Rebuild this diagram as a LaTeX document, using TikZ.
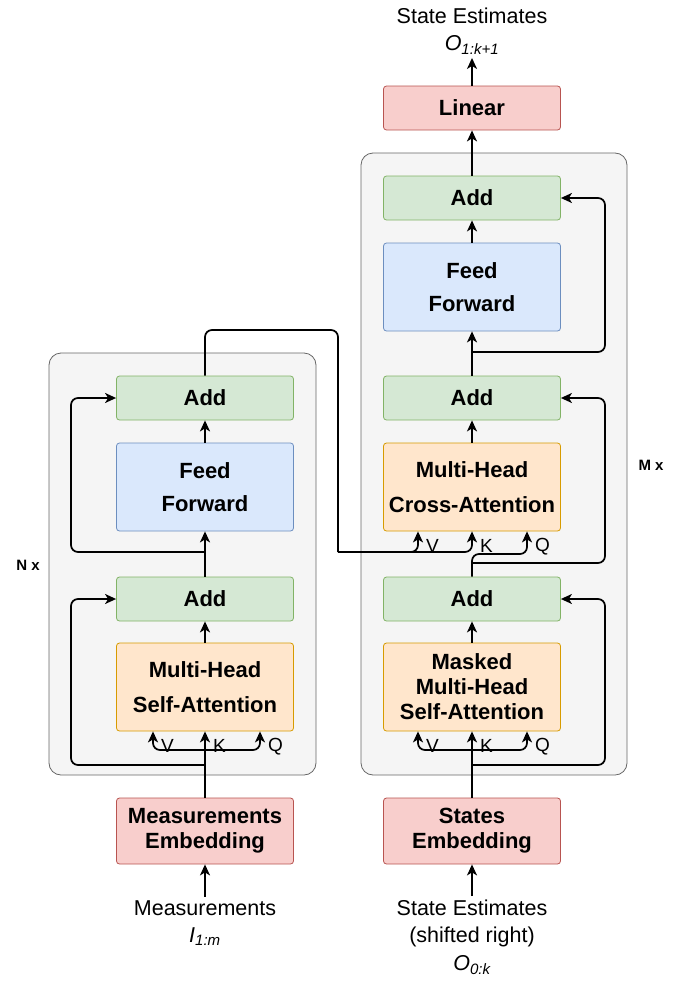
\documentclass[tikz,border=0pt]{standalone}
\usepackage{fontspec}
\setmainfont{Liberation Sans}
\usetikzlibrary{arrows.meta}

\definecolor{redfill}{HTML}{F8CECC}
\definecolor{redline}{HTML}{B85450}
\definecolor{greenfill}{HTML}{D5E8D4}
\definecolor{greenline}{HTML}{82B366}
\definecolor{bluefill}{HTML}{DAE8FC}
\definecolor{blueline}{HTML}{6C8EBF}
\definecolor{orangefill}{HTML}{FFE6CC}
\definecolor{orangeline}{HTML}{D79B00}
\definecolor{contfill}{HTML}{F5F5F5}
\definecolor{contline}{HTML}{666666}

\tikzset{
  blk/.style={draw, rounded corners=3pt, minimum width=177pt, align=center,
    line width=0.8pt, font=\bfseries\fontsize{22}{25}\selectfont},
  addblk/.style={blk, fill=greenfill, draw=greenline, minimum height=44pt},
  ffblk/.style={blk, fill=bluefill, draw=blueline, minimum height=88pt},
  attblk/.style={blk, fill=orangefill, draw=orangeline, minimum height=88pt},
  embblk/.style={blk, fill=redfill, draw=redline, minimum height=66pt},
  linblk/.style={blk, fill=redfill, draw=redline, minimum height=44pt},
  cont/.style={draw=contline, fill=contfill, rounded corners=12pt, line width=0.8pt},
  txt/.style={align=center, font=\fontsize{21.5}{27.5}\selectfont},
  small/.style={font=\fontsize{19}{20}\selectfont, inner sep=1pt},
  rep/.style={font=\bfseries\fontsize{15}{18}\selectfont},
  wire/.style={line width=1.7pt, rounded corners=7pt},
  arr/.style={wire, -{Stealth[length=11pt,width=10pt,inset=3pt]}}
}

\begin{document}
\begin{tikzpicture}[x=1pt,y=-1pt]
\useasboundingbox (0,0) rectangle (688,982);

% repeated blocks
\draw[cont] (49,353) rectangle (316,775);
\draw[cont] (361,153) rectangle (627,775);
\node[rep] (nx) at (28,565) {N x};
\node[rep] (mx) at (651,465) {M x};

% encoder
\node[addblk] (addL2) at (205,398) {Add};
\node[ffblk] (ffL) at (205,487) {Feed\\[8pt]Forward};
\node[addblk] (addL1) at (205,599) {Add};
\node[attblk] (attL) at (205,687) {Multi-Head\\[10pt]Self-Attention};
\node[embblk] (embL) at (205,831) {Measurements\\Embedding};
\node[txt] (inL) at (205,923) {Measurements\\\textit{I\textsubscript{1:m}}};

% decoder
\node[linblk] (lin) at (472,108) {Linear};
\node[txt] (outR) at (472,31) {State Estimates\\\textit{O\textsubscript{1:k+1}}};
\node[addblk] (addR3) at (472,198) {Add};
\node[ffblk] (ffR) at (472,287) {Feed\\[8pt]Forward};
\node[addblk] (addR2) at (472,398) {Add};
\node[attblk] (crossR) at (472,487) {Multi-Head\\[10pt]Cross-Attention};
\node[addblk] (addR1) at (472,599) {Add};
\node[attblk] (attR) at (472,687) {Masked\\Multi-Head\\Self-Attention};
\node[embblk] (embR) at (472,831) {States\\Embedding};
\node[txt] (inR) at (472,937) {State Estimates\\(shifted right)\\\textit{O\textsubscript{0:k}}};

% branch points
\coordinate (vkqL) at (205,750);
\coordinate (resL1) at (205,765);
\coordinate (resL2) at (205,552);
\coordinate (encT) at (338,330);
\coordinate (encB) at (338,552);
\coordinate (qR) at (472,554);
\coordinate (vkqR) at (472,750);
\coordinate (resR1) at (472,765);
\coordinate (resR2) at (472,563);
\coordinate (resR3) at (472,352);

% encoder wiring
\draw[arr] (inL) -- (embL);
\draw[arr] (embL) -- (attL);
\draw[arr] (vkqL) -| ([xshift=-52pt]attL.south);
\draw[arr] (vkqL) -| ([xshift=55pt]attL.south);
\node[small, anchor=west] (vL) at ([xshift=-45pt,yshift=-15pt]attL.south) {V};
\node[small, anchor=west] (kL) at ([xshift=7pt,yshift=-15pt]attL.south) {K};
\node[small, anchor=west] (qL) at ([xshift=62pt,yshift=-15pt]attL.south) {Q};
\draw[arr] (resL1) -| (71,599) -- (addL1.west);
\draw[arr] (attL) -- (addL1);
\draw[arr] (addL1) -- (ffL);
\draw[arr] (resL2) -| (71,398) -- (addL2.west);
\draw[arr] (ffL) -- (addL2);

% encoder output into cross-attention
\draw[wire] (addL2.north) |- (encT) -- (encB);
\draw[arr] (encB) -| (crossR.south);
\draw[arr] (encB) -| ([xshift=-54pt]crossR.south);
\draw[arr] (addR1.north) -- (qR) -| ([xshift=55pt]crossR.south);
\node[small, anchor=west] (vR2) at ([xshift=-47pt,yshift=-15pt]crossR.south) {V};
\node[small, anchor=west] (kR2) at ([xshift=7pt,yshift=-15pt]crossR.south) {K};
\node[small, anchor=west] (qR2) at ([xshift=62pt,yshift=-15pt]crossR.south) {Q};

% decoder wiring
\draw[arr] (inR) -- (embR);
\draw[arr] (embR) -- (attR);
\draw[arr] (vkqR) -| ([xshift=-54pt]attR.south);
\draw[arr] (vkqR) -| ([xshift=55pt]attR.south);
\node[small, anchor=west] (vR1) at ([xshift=-47pt,yshift=-15pt]attR.south) {V};
\node[small, anchor=west] (kR1) at ([xshift=7pt,yshift=-15pt]attR.south) {K};
\node[small, anchor=west] (qR1) at ([xshift=62pt,yshift=-15pt]attR.south) {Q};
\draw[arr] (resR1) -| (605,599) -- (addR1.east);
\draw[arr] (attR) -- (addR1);
\draw[arr] (resR2) -| (605,398) -- (addR2.east);
\draw[arr] (crossR) -- (addR2);
\draw[arr] (addR2) -- (ffR);
\draw[arr] (resR3) -| (605,198) -- (addR3.east);
\draw[arr] (ffR) -- (addR3);
\draw[arr] (addR3) -- (lin);
\draw[arr] (lin) -- (outR);
\end{tikzpicture}
\end{document}
